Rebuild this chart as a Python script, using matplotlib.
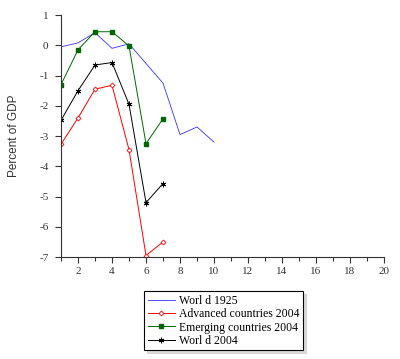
import matplotlib
matplotlib.use("Agg")
import matplotlib.pyplot as plt
from matplotlib.ticker import MultipleLocator

plt.rcParams["axes.unicode_minus"] = False

# years after the crisis
x_1925 = [1, 2, 3, 4, 5, 6, 7, 8, 9, 10]
world_1925 = [-0.05, 0.08, 0.42, -0.1, 0.05, -0.6, -1.25, -2.95, -2.7, -3.2]

x_2004 = [1, 2, 3, 4, 5, 6, 7]
advanced_2004 = [-3.27, -2.4, -1.45, -1.32, -3.45, -6.95, -6.5]
emerging_2004 = [-1.3, -0.15, 0.45, 0.45, -0.02, -3.25, -2.43]
world_2004 = [-2.48, -1.5, -0.65, -0.57, -1.95, -5.2, -4.57]

fig = plt.figure(figsize=(4, 3.59), dpi=100)
ax = fig.add_axes([0.1525, 0.284, 0.8075, 0.674])

ax.plot(x_1925, world_1925, color="#3333ff", lw=0.6, label="Worl d 1925")
ax.plot(x_2004, advanced_2004, color="#ff0000", lw=0.7, marker="D", ms=2.5,
        mfc="white", mec="#ff0000", mew=0.6, label="Advanced countries 2004")
ax.plot(x_2004, emerging_2004, color="#006600", lw=0.7, marker="s", ms=3.5,
        mfc="#006600", mec="#006600", label="Emerging countries 2004")
ax.plot(x_2004, world_2004, color="black", lw=0.7, marker=(6, 2, 0), ms=4,
        mew=0.7, label="Worl d 2004")

ax.set_xlim(1, 20)
ax.set_ylim(-7, 1)
ax.xaxis.set_major_locator(MultipleLocator(2))
ax.xaxis.set_minor_locator(MultipleLocator(1))
ax.yaxis.set_major_locator(MultipleLocator(1))

for s in ["top", "right"]:
    ax.spines[s].set_visible(False)
for s in ["left", "bottom"]:
    ax.spines[s].set_color("#333333")
    ax.spines[s].set_linewidth(0.8)

ax.tick_params(which="both", direction="out", colors="#333333", width=0.8)
ax.tick_params(which="major", length=4, labelsize=8)
ax.tick_params(which="minor", length=3)
ax.tick_params(axis="y", pad=5)
for lab in ax.get_xticklabels() + ax.get_yticklabels():
    lab.set_family("Liberation Serif")

ax.set_ylabel("Percent of GDP", family="Liberation Sans", fontsize=8.5,
              color="#333333", labelpad=14)

leg = fig.legend(loc="upper left", bbox_to_anchor=(0.36, 0.189),
                 borderaxespad=0,
                 prop={"family": "Liberation Serif", "size": 8.5},
                 frameon=True, fancybox=False,
                 shadow={"color": "#bbbbbb"}, handlelength=2.3,
                 borderpad=0.3, labelspacing=0.12, handletextpad=0.4)
leg.get_frame().set_edgecolor("black")
leg.get_frame().set_linewidth(0.8)

fig.savefig("out.png", dpi=100)
